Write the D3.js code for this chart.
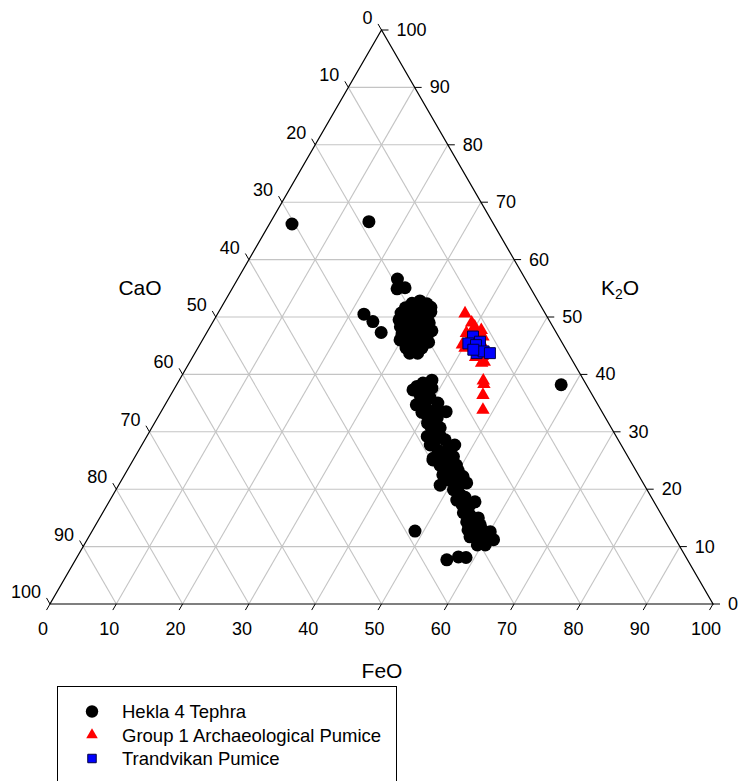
<!DOCTYPE html>
<html><head><meta charset="utf-8">
<script src="https://cdn.jsdelivr.net/npm/d3@7/dist/d3.min.js"></script>
<style>body{margin:0;background:#fff}svg{display:block}text{font-family:Arial,"Liberation Sans",sans-serif;fill:#000}</style>
</head><body><svg id="c" width="741" height="781"></svg>
<script>
// Ternary data: [FeO, K2O]; CaO = 100 - FeO - K2O
const ticks = [0,10,20,30,40,50,60,70,80,90,100];
const axisTitles = {bottom:"FeO", left:"CaO", right:"K"};
const seriesNames = ["Hekla 4 Tephra","Group 1 Archaeological Pumice","Trandvikan Pumice"];
const hekla = [
 [3.4,66.2],[14.8,66.6],[58.0,38.2],[48.7,12.7],
 [24.1,56.6],[26.0,55.1],[24.9,54.9],[22.1,50.5],[24.1,49.2],[26.3,47.3],
 [29.4,52.8],[28.4,52.4],[30.7,52.3],[27.8,51.6],[29.3,51.6],[30.8,51.2],[32.0,50.9],[27.6,50.7],
 [28.9,50.5],[30.3,50.4],[31.9,50.0],[28.5,49.5],[29.8,49.3],[31.3,49.1],[32.7,49.0],[28.7,48.3],
 [30.0,48.1],[31.3,47.9],[32.7,47.7],[33.8,47.6],[29.6,47.0],[30.9,46.9],[32.2,46.7],[33.6,46.5],
 [30.5,45.8],[31.8,45.6],[33.1,45.5],[34.3,45.6],[31.4,44.6],[32.7,44.4],[33.8,44.6],[32.4,43.7],
 [33.6,43.7],[31.6,51.7],[29.8,46.0],[31.5,49.8],[29.3,51.2],[30.3,46.9],[32.7,47.0],[27.9,49.5],
 [38.1,39.0],[36.4,37.9],[36.1,37.3],[37.0,38.5],[38.8,37.6],[37.9,34.7],[39.4,35.9],[43.0,33.5],
 [40.4,32.9],[41.2,31.5],[42.7,31.2],[42.3,29.2],[44.1,29.4],[47.2,27.7],[43.5,27.7],[45.1,25.4],
 [46.9,26.0],[46.7,24.2],[49.2,24.2],[49.3,23.1],[45.2,25.1],[47.9,23.9],[48.0,25.7],[48.5,20.7],
 [48.0,22.5],[50.0,22.2],[51.2,22.2],[52.3,21.1],[50.9,19.9],[52.3,18.1],[55.2,17.8],[54.7,16.4],
 [55.7,14.3],[58.0,13.8],[57.8,12.0],[60.1,12.6],[61.3,11.2],[60.5,10.3],[59.3,11.2],[57.5,11.7],
 [56.0,7.7],[57.5,8.2],[58.7,8.1],[37.6,36.4],[39.2,34.7],[41.2,33.8],[42.5,30.3],[45.3,28.6],
 [45.1,26.8],[49.2,21.6],[52.4,19.0],[55.6,15.5],[57.5,13.2],[59.6,12.0],[53.5,17.3],[48.7,23.3],
 [42.2,32.4],[38.1,36.9],[38.2,35.5],[41.0,35.0],[39.4,33.4],[41.6,32.4],[42.1,30.8],[43.5,30.7],
 [43.8,28.6],[46.5,27.4],[46.2,25.6],[47.8,24.7],[50.0,23.2],[48.6,22.6],[51.4,20.9],[50.6,21.1],
 [51.8,19.5],[53.3,18.6],[54.7,17.2],[54.4,15.9],[56.5,14.6],[57.1,15.0],[58.7,12.9],[60.2,11.5],
 [59.3,10.3],[56.6,12.9]
];
const group1 = [
 [37.3,50.6],[39.1,49.0],[39.9,48.3],[39.2,47.2],[41.2,47.7],[42.0,46.6],[40.3,44.6],[43.5,44.3],
 [44.1,42.0],[45.9,38.9],[46.3,38.3],[47.1,36.4],[48.4,33.8],[40.8,45.1],[42.7,43.0],[44.4,42.2],
 [39.9,47.7],[41.3,46.9],[40.1,46.0],[42.4,44.3],[39.6,45.2],[43.6,43.2]
];
const trandvikan = [
 [40.5,46.6],[42.0,45.7],[40.4,45.4],[41.7,45.1],[42.5,43.7],[43.4,44.0],[44.5,43.7],[41.7,44.3]
];

const svg = d3.select("#c");
const xS = d3.scaleLinear().domain([0,100]).range([50,713]);
const yS = d3.scaleLinear().domain([0,100]).range([604,30]);
const P = (f,k) => [xS(f + k/2), yS(k)];

// grid
const g = svg.append("g").attr("stroke","#c4c4c4").attr("stroke-width",1.1).attr("fill","none");
ticks.slice(1,-1).forEach(v=>{
  let a=P(0,v), b=P(100-v,v);
  g.append("line").attr("x1",a[0]).attr("y1",a[1]).attr("x2",b[0]).attr("y2",b[1]);
  a=P(v,0); b=P(v,100-v);
  g.append("line").attr("x1",a[0]).attr("y1",a[1]).attr("x2",b[0]).attr("y2",b[1]);
  a=P(100-v,0); b=P(0,100-v);
  g.append("line").attr("x1",a[0]).attr("y1",a[1]).attr("x2",b[0]).attr("y2",b[1]);
});
const A=P(0,0), B=P(100,0), C=P(0,100);
svg.append("path").attr("d",`M${A}L${B}L${C}Z`).attr("fill","none").attr("stroke","#000").attr("stroke-width",1.2);

// ticks & labels
const tk = svg.append("g").attr("stroke","#000").attr("stroke-width",1);
const lab = svg.append("g").style("font-size","18px");
const L = 7, c60 = 0.5, s60 = Math.sqrt(3)/2;
ticks.forEach(v=>{
  let p=P(v,0);
  tk.append("line").attr("x1",p[0]).attr("y1",p[1]).attr("x2",p[0]-L*c60).attr("y2",p[1]+L*s60);
  lab.append("text").attr("x",p[0]-7).attr("y",p[1]+25).attr("text-anchor","middle").attr("dominant-baseline","central").text(v);
  p=P(100-v,v);
  tk.append("line").attr("x1",p[0]).attr("y1",p[1]).attr("x2",p[0]+L).attr("y2",p[1]);
  lab.append("text").attr("x",p[0]+15).attr("y",p[1]).attr("dominant-baseline","central").text(v);
  p=P(0,100-v);
  tk.append("line").attr("x1",p[0]).attr("y1",p[1]).attr("x2",p[0]-L*c60).attr("y2",p[1]-L*s60);
  lab.append("text").attr("x",p[0]-9).attr("y",p[1]-12).attr("text-anchor","end").attr("dominant-baseline","central").text(v);
});

// axis titles
const tt = svg.append("g").style("font-size","21px");
tt.append("text").attr("x",382).attr("y",670).attr("text-anchor","middle").attr("dominant-baseline","central").text(axisTitles.bottom);
tt.append("text").attr("x",140).attr("y",287).attr("text-anchor","middle").attr("dominant-baseline","central").text(axisTitles.left);
const kt = tt.append("text").attr("x",601).attr("y",287).attr("dominant-baseline","central");
kt.append("tspan").text("K");
kt.append("tspan").attr("dy",7).style("font-size","14px").text("2");
kt.append("tspan").attr("dy",-7).text("O");

// points
const tri = d3.symbol().type(d3.symbolTriangle).size(78)();
const sq = d3.symbol().type(d3.symbolSquare).size(120)();
svg.append("g").selectAll("circle").data(hekla).join("circle")
  .attr("cx",d=>P(d[0],d[1])[0]).attr("cy",d=>P(d[0],d[1])[1]).attr("r",6.5).attr("fill","#000");
svg.append("g").selectAll("path").data(group1).join("path")
  .attr("d",tri).attr("transform",d=>`translate(${P(d[0],d[1])})`).attr("fill","#ff0000");
svg.append("g").selectAll("path").data(trandvikan).join("path")
  .attr("d",sq).attr("transform",d=>`translate(${P(d[0],d[1])})`).attr("fill","#0000ff").attr("stroke","#000040").attr("stroke-width",1);

// legend
const lg = svg.append("g");
lg.append("rect").attr("x",57.5).attr("y",686.5).attr("width",339).attr("height",120).attr("fill","#fff").attr("stroke","#000").attr("stroke-width",1);
const rows=[711.5,735,758.5];
lg.append("circle").attr("cx",92).attr("cy",rows[0]).attr("r",6.2).attr("fill","#000");
lg.append("path").attr("d",d3.symbol().type(d3.symbolTriangle).size(58)()).attr("transform",`translate(92,${rows[1]})`).attr("fill","#ff0000");
lg.append("path").attr("d",d3.symbol().type(d3.symbolSquare).size(72)()).attr("transform",`translate(92,${rows[2]})`).attr("fill","#0000ff").attr("stroke","#000040");
seriesNames.forEach((n,i)=>{
  lg.append("text").attr("x",122).attr("y",rows[i]).attr("dominant-baseline","central").style("font-size","18.5px").text(n);
});
</script></body></html>
